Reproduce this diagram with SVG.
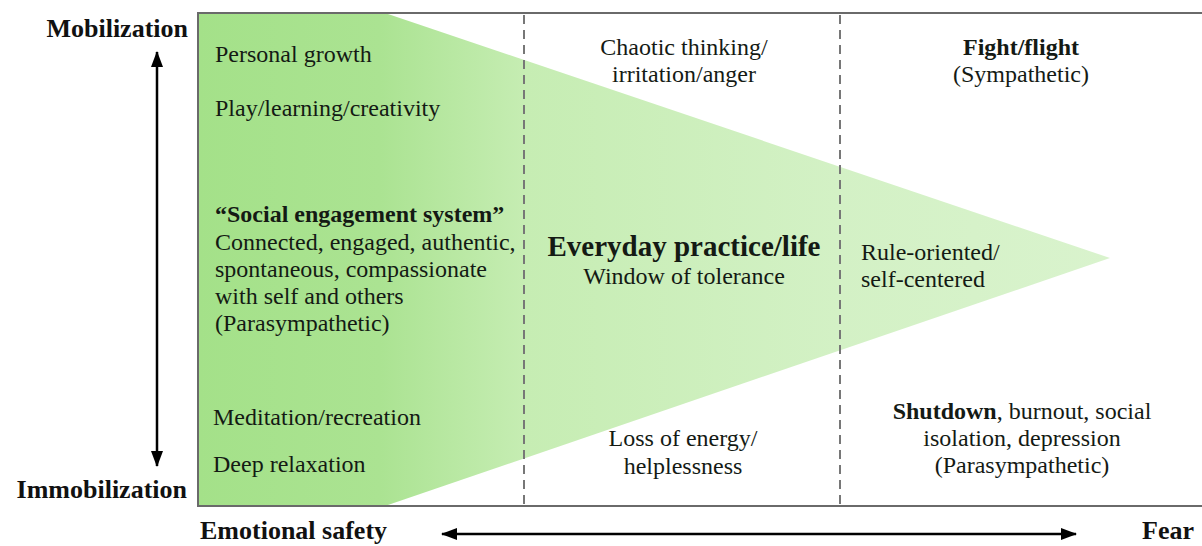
<svg xmlns="http://www.w3.org/2000/svg" width="1202" height="546" viewBox="0 0 1202 546">
  <defs>
    <linearGradient id="calm" gradientUnits="userSpaceOnUse" x1="198" y1="0" x2="1110" y2="0">
      <stop offset="0" stop-color="#a4e189"/>
      <stop offset="0.2" stop-color="#abe392"/>
      <stop offset="0.36" stop-color="#c6edb3"/>
      <stop offset="0.7" stop-color="#d3f1c5"/>
      <stop offset="1" stop-color="#d9f3cd"/>
    </linearGradient>
    <marker id="head" viewBox="0 0 16 12" refX="15" refY="6" markerWidth="16" markerHeight="12" markerUnits="userSpaceOnUse" orient="auto-start-reverse">
      <path d="M0,0 L16,6 L0,12 Z" fill="#000"/>
    </marker>
  </defs>
  <style>
    text { font-family: "Liberation Serif", "Times New Roman", serif; fill: #141a14; font-size: 24px; }
    .b { font-weight: bold; }
    .axis { font-weight: bold; font-size: 26px; fill: #111; }
    .mid { text-anchor: middle; }
    .frame { fill: none; stroke: #6a6a6a; stroke-width: 2; }
    .dash { fill: none; stroke: #777; stroke-width: 2; stroke-dasharray: 9 6; }
    .arrow { stroke: #000; stroke-width: 2.5; fill: none; }
  </style>

  <rect width="1202" height="546" fill="#fff"/>

  <!-- tolerance wedge -->
  <g id="wedge">
    <polygon points="198,13 385,13 1110,258 385,506 198,506" fill="url(#calm)"/>
  </g>

  <!-- frame and window of tolerance -->
  <g id="frame">
    <path class="frame" d="M1203,13 H198 V506 H1203"/>
    <path class="dash" d="M524,15 V505 M840,15 V505"/>
  </g>

  <g id="connectors">
    <line class="arrow" x1="157" y1="52" x2="157" y2="466" marker-start="url(#head)" marker-end="url(#head)"/>
    <line class="arrow" x1="442" y1="534" x2="1076" y2="534" marker-start="url(#head)" marker-end="url(#head)"/>
  </g>

  <g id="axis-labels">
    <text class="axis" x="188" y="37" text-anchor="end">Mobilization</text>
    <text class="axis" x="187" y="498" text-anchor="end">Immobilization</text>
    <text class="axis" x="200" y="539">Emotional safety</text>
    <text class="axis" x="1142" y="539">Fear</text>
  </g>

  <g id="safe-states">
    <text x="215" y="62">Personal growth</text>
    <text x="215" y="116">Play/learning/creativity</text>
    <text x="215" y="222" class="b">“Social engagement system”</text>
    <text x="215" y="250">Connected, engaged, authentic,</text>
    <text x="215" y="277">spontaneous, compassionate</text>
    <text x="215" y="304">with self and others</text>
    <text x="215" y="331">(Parasympathetic)</text>
    <text x="213" y="425">Meditation/recreation</text>
    <text x="213" y="472">Deep relaxation</text>
  </g>

  <g id="tolerance">
    <text class="mid" x="684" y="55">Chaotic thinking/</text>
    <text class="mid" x="684" y="82">irritation/anger</text>
    <text class="mid b" x="684" y="256" style="font-size:29px">Everyday practice/life</text>
    <text class="mid" x="684" y="284">Window of tolerance</text>
    <text class="mid" x="683" y="446">Loss of energy/</text>
    <text class="mid" x="683" y="474">helplessness</text>
  </g>

  <g id="fear-states">
    <text class="mid b" x="1021" y="55">Fight/flight</text>
    <text class="mid" x="1021" y="82">(Sympathetic)</text>
    <text x="861" y="260">Rule-oriented/</text>
    <text x="861" y="287">self-centered</text>
    <text class="mid" x="1022" y="419"><tspan class="b">Shutdown</tspan>, burnout, social</text>
    <text class="mid" x="1022" y="446">isolation, depression</text>
    <text class="mid" x="1022" y="473">(Parasympathetic)</text>
  </g>
</svg>
